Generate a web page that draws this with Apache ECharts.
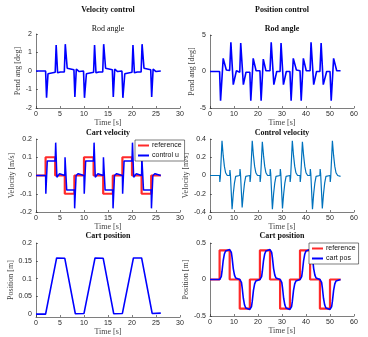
<!DOCTYPE html>
<html><head><meta charset="utf-8">
<script src="https://cdn.jsdelivr.net/npm/echarts@6/dist/echarts.min.js"></script>
<style>html,body{margin:0;padding:0;background:#fff}#c{width:368px;height:337px}</style>
</head><body><div id="c"></div>
<script>
// ---- Velocity control: rod angle [deg] ----
const rodAngleVel = [[0,0],[2.0,0],[2.2,-1.45],[2.5,-0.15],[2.7,-0.1],[4.0,-0.07],[4.2,1.4],[4.5,-0.1],[4.6,-0.15],[4.9,0],[5.1,-0.05],[5.9,-0.05],[6.1,1.45],[6.5,0.15],[6.7,0.1],[7.9,0.07],[8.1,-1.4],[8.4,0.1],[8.7,0.15],[9.0,-0.03],[9.9,0],
[10.1,-1.45],[10.5,-0.15],[10.7,-0.1],[12.0,-0.07],[12.2,1.4],[12.5,-0.1],[12.6,-0.15],[12.9,0],[13.1,-0.05],[13.9,-0.05],[14.1,1.45],[14.5,0.15],[14.7,0.1],[15.9,0.07],[16.1,-1.4],[16.4,0.1],[16.7,0.15],[17.0,-0.03],[17.9,0],
[18.1,-1.45],[18.5,-0.15],[18.7,-0.1],[20.0,-0.07],[20.2,1.4],[20.5,-0.1],[20.6,-0.15],[20.9,0],[21.1,-0.05],[21.9,-0.05],[22.1,1.45],[22.5,0.15],[22.7,0.1],[23.9,0.07],[24.1,-1.4],[24.4,0.1],[24.7,0.15],[25.0,-0.03],[26.0,0]];
// ---- Velocity control: cart velocity [m/s] ----
const cartVelRef = [[0,0],[2,0],[2,0.1],[4,0.1],[4,0],[6,0],[6,-0.1],[8,-0.1],[8,0],[10,0],[10,0.1],[12,0.1],[12,0],[14,0],[14,-0.1],[16,-0.1],[16,0],[18,0],[18,0.1],[20,0.1],[20,0],[22,0],[22,-0.1],[24,-0.1],[24,0],[26,0]];
const controlU = [[0,0],[2.0,0],[2.05,-0.1],[2.35,0.08],[4.0,0.08],[4.1,0.18],[4.35,-0.01],[4.6,-0.015],[4.9,0.01],[5.3,0],[6.0,0],[6.05,0.1],[6.4,-0.08],[8.0,-0.08],[8.05,-0.18],[8.35,0],[8.6,-0.01],[8.8,0.01],[9.2,0],[10.0,0],
[10.05,-0.1],[10.35,0.08],[12.0,0.08],[12.1,0.18],[12.35,-0.01],[12.6,-0.015],[12.9,0.01],[13.3,0],[14.0,0],[14.05,0.1],[14.4,-0.08],[16.0,-0.08],[16.05,-0.18],[16.35,0],[16.6,-0.01],[16.8,0.01],[17.2,0],[18.0,0],
[18.05,-0.1],[18.35,0.08],[20.0,0.08],[20.1,0.18],[20.35,-0.01],[20.6,-0.015],[20.9,0.01],[21.3,0],[22.0,0],[22.05,0.1],[22.4,-0.08],[24.0,-0.08],[24.05,-0.18],[24.35,0],[24.6,-0.01],[24.8,0.01],[25.2,0],[26.0,0]];
// ---- Velocity control: cart position [m] ----
const cartPosVel = [[0,0],[2.0,0],[2.2,-0.002],[4.3,0.158],[4.5,0.157],[6.0,0.157],[6.1,0.16],[8.2,0.001],[8.4,0.002],[10.0,0.002],[10.2,-0.001],[12.3,0.158],[12.5,0.157],[14.0,0.157],[14.1,0.161],[16.2,0.001],[16.4,0.002],[18.0,0.002],[18.2,-0.001],[20.3,0.158],[20.5,0.157],[22.0,0.158],[22.1,0.162],[24.2,0.002],[24.4,0.003],[26.0,0.003]];
// ---- Position control: rod angle [deg] ----
const rodAnglePos = [[0,0],[4.0,0],[4.4,-4.0],[5.5,1.8],[6.8,0.2],[8.2,0.15],[8.7,4.0],[9.7,-1.8],[11.0,0.1],[11.3,-0.1],[12.4,-0.1],[12.8,3.9],[13.9,-1.8],[15.0,-0.1],[16.6,-0.1],[17.0,-4.0],[18.0,1.8],[19.2,0.1],[20.8,0.1],[21.3,-4.0],[22.2,1.7],[23.3,0.1],[25.0,0.1],[25.5,4.0],[26.6,-1.8],[27.8,0],[29.2,0],[29.6,3.9],[30.6,-1.8],[31.8,0],[33.3,0],[33.8,-4.0],[34.7,1.8],[36.0,0.2],[37.5,0.1],[38.0,-4.0],[38.9,1.8],[40.1,0.1],[41.7,0.1],[42.1,4.0],[43.2,-1.8],[44.4,0],[45.8,0],[46.3,3.9],[47.2,-1.8],[48.6,0],[50.0,0],[50.5,-4.0],[51.5,1.8],[52.8,0.1],[54.4,0.1]];
// ---- Position control: control velocity [m/s] ----
const controlVel = [[0,0],[4.0,0],[4.1,-0.07],[4.3,-0.02],[5.0,0.38],[5.5,0.22],[6.0,0.1],[6.5,0.03],[7.2,0],[8.2,0],[8.3,0.06],[8.5,0.01],[9.2,-0.37],[9.7,-0.2],[10.2,-0.08],[10.7,-0.01],[12.4,0],[12.5,0.07],[12.7,0.02],[13.4,-0.35],[13.9,-0.2],[14.4,-0.08],[14.9,-0.01],[16.6,0],[16.7,-0.07],[16.9,-0.02],[17.6,0.38],[18.1,0.22],[18.6,0.1],[19.1,0.03],[19.8,0],[20.8,0],[20.9,-0.07],[21.1,-0.02],[21.8,0.37],[22.3,0.22],[22.8,0.1],[23.3,0.03],[24.0,0],[25.0,0],[25.1,0.07],[25.3,0.02],[26.0,-0.37],[26.5,-0.2],[27.0,-0.08],[27.5,-0.01],[29.2,0],[29.3,0.07],[29.5,0.02],[30.2,-0.36],[30.7,-0.2],[31.2,-0.08],[31.7,-0.01],[33.3,0],[33.4,-0.07],[33.6,-0.02],[34.3,0.38],[34.8,0.22],[35.3,0.1],[35.8,0.03],[36.5,0],[37.5,0],[37.6,-0.07],[37.8,-0.02],[38.5,0.37],[39.0,0.22],[39.5,0.1],[40.0,0.03],[40.7,0],[41.7,0],[41.8,0.07],[42.0,0.02],[42.7,-0.37],[43.2,-0.2],[43.7,-0.08],[44.2,-0.01],[45.8,0],[45.9,0.07],[46.1,0.02],[46.8,-0.36],[47.3,-0.2],[47.8,-0.08],[48.3,-0.01],[50.0,0],[50.1,-0.07],[50.3,-0.02],[51.0,0.38],[51.5,0.22],[52.0,0.1],[52.5,0.03],[53.2,0],[54.4,-0.01]];
// ---- Position control: cart position [m] ----
const posRef = [[0,0],[4.0,0],[4.0,0.4],[8.2,0.4],[8.2,0],[12.4,0],[12.4,-0.4],[16.6,-0.4],[16.6,0],[20.8,0],[20.8,0.4],[25.0,0.4],[25.0,0],[29.2,0],[29.2,-0.4],[33.3,-0.4],[33.3,0],[37.5,0],[37.5,0.4],[41.7,0.4],[41.7,0],[45.8,0],[45.8,-0.4],[50.0,-0.4],[50.0,0],[54.4,0]];
const cartPos = [[0,0],[4.0,0],[4.3,-0.01],[4.7,0.04],[5.0,0.11],[5.5,0.26],[6.0,0.35],[6.5,0.39],[7.2,0.41],[8.2,0.41],
[8.5,0.42],[8.9,0.37],[9.2,0.30],[9.7,0.15],[10.2,0.06],[10.7,0.02],[11.4,0],[12.4,0],
[12.7,0.01],[13.1,-0.04],[13.4,-0.11],[13.9,-0.26],[14.4,-0.35],[14.9,-0.39],[15.6,-0.41],[16.6,-0.41],
[16.9,-0.42],[17.3,-0.37],[17.6,-0.30],[18.1,-0.15],[18.6,-0.06],[19.1,-0.02],[19.8,0],[20.8,0],
[21.1,-0.01],[21.5,0.04],[21.8,0.11],[22.3,0.26],[22.8,0.35],[23.3,0.39],[24.0,0.41],[25.0,0.41],
[25.3,0.42],[25.7,0.37],[26.0,0.30],[26.5,0.15],[27.0,0.06],[27.5,0.02],[28.2,0],[29.2,0],
[29.5,0.01],[29.9,-0.04],[30.2,-0.11],[30.7,-0.26],[31.2,-0.35],[31.7,-0.39],[32.4,-0.41],[33.3,-0.41],
[33.6,-0.42],[34.0,-0.37],[34.3,-0.30],[34.8,-0.15],[35.3,-0.06],[35.8,-0.02],[36.5,0],[37.5,0],
[37.8,-0.01],[38.2,0.04],[38.5,0.11],[39.0,0.26],[39.5,0.35],[40.0,0.39],[40.7,0.41],[41.7,0.41],
[42.0,0.42],[42.4,0.37],[42.7,0.30],[43.2,0.15],[43.7,0.06],[44.2,0.02],[44.9,0],[45.8,0],
[46.1,0.01],[46.5,-0.04],[46.8,-0.11],[47.3,-0.26],[47.8,-0.35],[48.3,-0.39],[49.0,-0.41],[50.0,-0.41],
[50.3,-0.42],[50.7,-0.37],[51.0,-0.30],[51.5,-0.15],[52.0,-0.06],[52.5,-0.02],[53.2,0],[54.4,0]];
const cartPosTicks = [0, 0.05, 0.1, 0.15, 0.2];

const AX = '#262626', TXT = '#262626';
const SERIF = 'Liberation Serif', SANS = 'Liberation Sans';

function xAx(gi, max, interval, gap) {
  return {type:'value', gridIndex:gi, min:0, max:max, interval:interval,
    name:'Time [s]', nameLocation:'middle', nameGap:gap,
    nameTextStyle:{fontFamily:SERIF, fontSize:8, color:'#444'},
    axisLine:{onZero:false, lineStyle:{color:AX, width:0.6}},
    axisTick:{inside:true, length:2, lineStyle:{color:AX, width:0.6}},
    axisLabel:{fontFamily:SANS, fontSize:7, color:TXT, margin:3},
    splitLine:{show:false}};
}
function yAx(gi, min, max, interval, name, gap, extra) {
  const a = {type:'value', gridIndex:gi, min:min, max:max, interval:interval,
    name:name, nameLocation:'middle', nameGap:gap,
    nameTextStyle:{fontFamily:SERIF, fontSize:8, color:'#444'},
    axisLine:{onZero:false, lineStyle:{color:AX, width:0.6}},
    axisTick:{inside:true, length:2, lineStyle:{color:AX, width:0.6}},
    axisLabel:{fontFamily:SANS, fontSize:7, color:TXT, margin:4},
    splitLine:{show:false}};
  if (extra) extra(a);
  return a;
}
function ln(name, gi, data, color, width, z) {
  return {type:'line', name:name, xAxisIndex:gi, yAxisIndex:gi, data:data, showSymbol:false, symbol:'none',
    animation:false, lineStyle:{color:color, width:width}, itemStyle:{color:color}, z:z||2};
}
function txt(x, y, s, bold) {
  return {type:'text', x:x, y:y, style:{text:s, textAlign:'center', textVerticalAlign:'middle',
    font:(bold?'bold ':'')+'8px "Liberation Serif"', fill:'#111'}};
}

const chart = echarts.init(document.getElementById('c'), null, {renderer:'canvas'});
chart.setOption({
  animation:false,
  backgroundColor:'#fff',
  grid:[
    {left:36, top:34, width:144, height:74},
    {left:210, top:35, width:144, height:73},
    {left:36, top:139, width:144, height:73},
    {left:210, top:139, width:144, height:73},
    {left:36, top:243, width:144, height:74},
    {left:210, top:243, width:144, height:73}
  ],
  xAxis:[xAx(0,30,5,10), xAx(1,60,10,10), xAx(2,30,5,10), xAx(3,60,10,10), xAx(4,30,5,10), xAx(5,60,10,10)],
  yAxis:[
    yAx(0,-2,2,1,'Pend ang [deg]',12),
    yAx(1,-5,5,5,'Pend ang [deg]',12),
    yAx(2,-0.2,0.2,0.1,'Velocity [m/s]',18),
    yAx(3,-0.4,0.4,0.2,'Velocity [m/s]',18),
    yAx(4,-0.008,0.2,null,'Position [m]',20, a=>{ delete a.interval;
      a.axisLabel.customValues = cartPosTicks; a.axisTick.customValues = cartPosTicks; }),
    yAx(5,-0.5,0.5,0.5,'Position [m]',18)
  ],
  legend:[
    {data:['reference','control u'], orient:'vertical', left:135, top:140, itemWidth:11, itemHeight:2, icon:'rect',
     itemGap:3, padding:[2,3,2,3], backgroundColor:'#fff', borderColor:AX, borderWidth:0.6,
     textStyle:{fontFamily:SANS, fontSize:7, color:'#111', padding:[0,0,0,-2]}},
    {data:['reference','cart pos'], orient:'vertical', left:309, top:243, itemWidth:11, itemHeight:2, icon:'rect',
     itemGap:3, padding:[2,3,2,3], backgroundColor:'#fff', borderColor:AX, borderWidth:0.6,
     textStyle:{fontFamily:SANS, fontSize:7, color:'#111', padding:[0,0,0,-2]}}
  ],
  series:[
    ln('rod angle v', 0, rodAngleVel, '#0000ff', 1.6),
    ln('rod angle p', 1, rodAnglePos, '#0000ff', 1.6),
    ln('reference', 2, cartVelRef, '#ff2a2a', 2.2, 2),
    ln('control u', 2, controlU, '#0000ff', 1.5, 3),
    ln('control velocity', 3, controlVel, '#0072BD', 1.2),
    ln('cart position v', 4, cartPosVel, '#0000ff', 1.6),
    ln('reference', 5, posRef, '#ff2a2a', 2.2, 2),
    ln('cart pos', 5, cartPos, '#0000ff', 1.6, 3)
  ],
  graphic:[
    txt(108,10,'Velocity control',true),
    txt(282,10,'Position control',true),
    txt(108,29,'Rod angle',false),
    txt(282,29,'Rod angle',true),
    txt(108,133,'Cart velocity',true),
    txt(282,133,'Control velocity',true),
    txt(108,236,'Cart position',true),
    txt(282,236,'Cart position',true)
  ]
});
</script></body></html>
